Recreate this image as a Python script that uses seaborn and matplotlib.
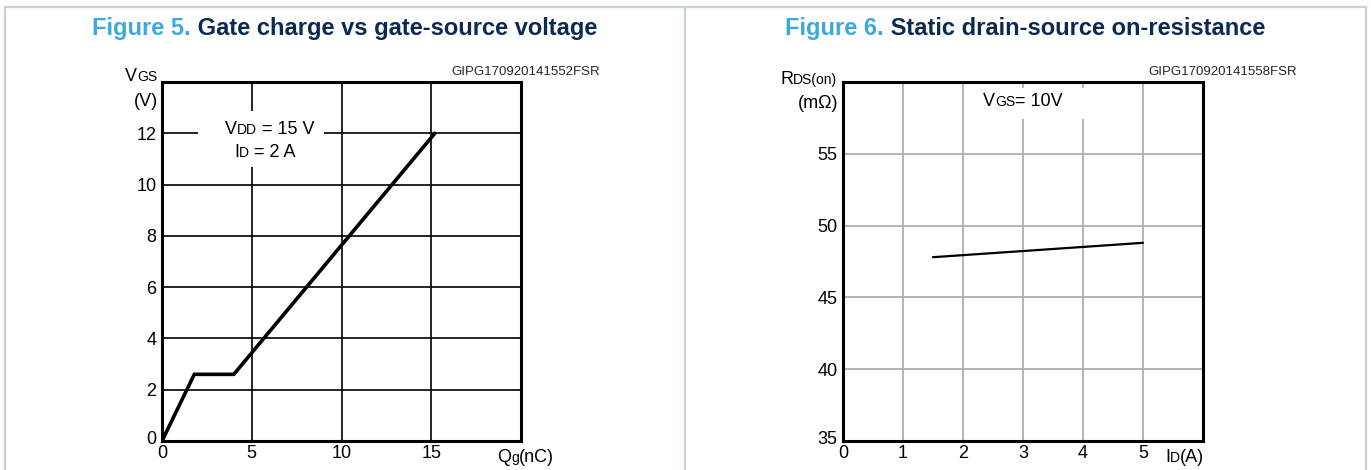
import matplotlib
matplotlib.use("Agg")
import matplotlib.pyplot as plt
import seaborn as sns
import pandas as pd
from matplotlib.patches import Rectangle
from matplotlib.lines import Line2D
from matplotlib.transforms import IdentityTransform, ScaledTranslation

# ---------------- data ----------------
qg_nc = [0.0, 1.8, 4.0, 15.2]
vgs_v = [0.0, 2.6, 2.6, 12.0]
id_a = [1.5, 5.0]
rds_mohm = [47.8, 48.8]

left_xticks = [0, 5, 10, 15]
left_yticks = [0, 2, 4, 6, 8, 10, 12]
right_xticks = [0, 1, 2, 3, 4, 5]
right_yticks = [35, 40, 45, 50, 55]

title_left = ("Figure 5.", " Gate charge vs gate-source voltage")
title_right = ("Figure 6.", " Static drain-source on-resistance")
code_left = "GIPG170920141552FSR"
code_right = "GIPG170920141558FSR"

# ---------------- style ----------------
sns.set_style("white")
plt.rcParams["font.family"] = ["Liberation Sans", "DejaVu Sans"]

W, H = 1371, 470
fig = plt.figure(figsize=(W / 100, H / 100), dpi=100)
fig.patch.set_facecolor("white")

BLUE = "#3ba9e0"
NAVY = "#0a2a52"
FRAME = "#c8d1d6"

# frame lines
for (x0, y0, x1, y1) in [(5, 7, 1366, 7), (5, 7, 5, 470), (685, 7, 685, 470), (1366, 7, 1366, 470)]:
    fig.add_artist(Line2D([x0, x1], [H - y0, H - y1], transform=IdentityTransform(),
                          color=FRAME, lw=1.6))

fig.canvas.draw()
renderer = fig.canvas.get_renderer()

def compound(x, y, parts, ha="left", color="black", weight="normal"):
    """parts: list of (text, size[, color]) drawn side by side; x,y image pixels, y = baseline"""
    texts = []
    widths = []
    for p in parts:
        t = fig.text(0, 0, p[0], fontsize=p[1], color=(p[2] if len(p) > 2 else color),
                     weight=weight, transform=IdentityTransform(), va="baseline", ha="left")
        bb = t.get_window_extent(renderer)
        texts.append(t)
        widths.append(bb.width)
    total = sum(widths)
    if ha == "right":
        cur = x - total
    elif ha == "center":
        cur = x - total / 2
    else:
        cur = x
    for t, w in zip(texts, widths):
        t.set_position((cur, H - y))
        cur += w
    return texts

# titles
compound(345, 35, [(title_left[0], 17, BLUE), (title_left[1], 17, NAVY)], ha="center", weight="bold")
compound(1025, 35, [(title_right[0], 17, BLUE), (title_right[1], 17, NAVY)], ha="center", weight="bold")

# codes
fig.text(600, H - 75, code_left, fontsize=9.5, ha="right", va="baseline", transform=IdentityTransform())
fig.text(1297, H - 75, code_right, fontsize=9.5, ha="right", va="baseline", transform=IdentityTransform())

# ---------------- axes ----------------
axL = fig.add_axes([162 / W, 1 - 441 / H, 359 / W, 359 / H])
axR = fig.add_axes([843 / W, 1 - 441 / H, 360 / W, 359 / H])

# left panel
dfL = pd.DataFrame({"Qg": qg_nc, "VGS": vgs_v})
sns.lineplot(data=dfL, x="Qg", y="VGS", ax=axL, color="black", lw=2.6, sort=False,
             estimator=None, zorder=3, solid_joinstyle="miter")
axL.set_xlim(0, 20)
axL.set_ylim(0, 14)
axL.set_xticks(left_xticks)
axL.set_yticks(left_yticks)
axL.grid(True, which="major", color="black", lw=1.2)
axL.set_axisbelow(True)
axL.add_patch(Rectangle((2.0, 10.7), 7.0, 2.15, facecolor="white", edgecolor="none", zorder=1.5))

# right panel
dfR = pd.DataFrame({"ID": id_a, "RDS": rds_mohm})
sns.lineplot(data=dfR, x="ID", y="RDS", ax=axR, color="black", lw=1.6, estimator=None, zorder=3)
axR.set_xlim(0, 6)
axR.set_ylim(35, 60)
axR.set_xticks(right_xticks)
axR.set_yticks(right_yticks)
axR.grid(True, which="major", color="#a8a8a8", lw=1.2)
axR.set_axisbelow(True)
axR.add_patch(Rectangle((2.1, 57.4), 2.05, 2.2, facecolor="white", edgecolor="none", zorder=1.5))

for ax in (axL, axR):
    ax.set_xlabel("")
    ax.set_ylabel("")
    for s in ax.spines.values():
        s.set_color("black")
        s.set_linewidth(2.2)
        s.set_zorder(4)
    ax.tick_params(which="both", length=0, labelsize=13, pad=4, colors="black")
    ax.tick_params(axis="x", pad=3)
    ax.set_facecolor("white")

# raise bottom y tick label slightly
for ax in (axL, axR):
    lab = ax.get_yticklabels()[0]
    lab.set_transform(lab.get_transform() + ScaledTranslation(0, 4 / 100, fig.dpi_scale_trans))

# axis labels (image pixel coords, baselines)
compound(125, 81, [("V", 13), ("GS", 10)])
compound(158, 106, [("(V)", 13)], ha="right")
compound(497, 462, [("Q", 13), ("g", 10), ("(nC)", 13)])

compound(780, 84, [("R", 13), ("DS(on)", 10)])
compound(838, 108, [("(mΩ)", 13)], ha="right")
compound(1165, 462, [("I", 13), ("D", 10), ("(A)", 13)])

# annotations inside plots
compound(270, 134, [("V", 13), ("DD", 10), (" = 15 V", 13)], ha="center")
compound(265, 157, [("I", 13), ("D", 10), (" = 2 A", 13)], ha="center")
compound(1023, 106, [("V", 13), ("GS", 10), ("= 10V", 13)], ha="center")

fig.savefig("out.png", dpi=100)
